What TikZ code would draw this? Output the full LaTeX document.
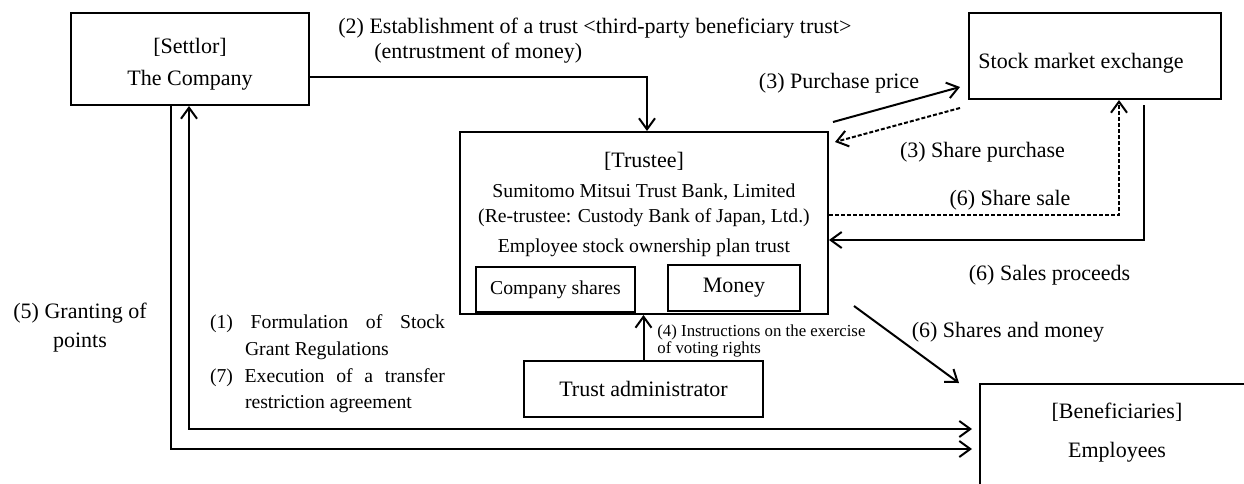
\documentclass[tikz,border=0pt]{standalone}
\usepackage{fontspec}
\setmainfont{Liberation Serif}
\usetikzlibrary{arrows.meta}
\begin{document}
\begin{tikzpicture}[x=0.5pt,y=-0.5pt,
  >={Straight Barb[length=5.5pt,width=8pt]},
  box/.style={draw, line width=1pt, inner sep=0pt},
  conn/.style={line width=1pt},
  dsh/.style={dash pattern=on 2pt off 1pt},
  lbl/.style={inner sep=0pt, font=\fontsize{11}{12.5}\selectfont}]
\fill[white] (0,0) rectangle (1244,483);
\useasboundingbox (0,0) rectangle (1244,483);

% boxes
\node[box, minimum width=119pt, minimum height=46pt] (settlor) at (190,59) {};
\node[lbl, align=center, font=\fontsize{11}{16}\selectfont] (settlortxt) at (190,64) {[Settlor]\\The Company};

\node[box, minimum width=126pt, minimum height=43pt] (stock) at (1095,56) {};
\node[lbl, anchor=west] (stocktxt) at (978,63) {Stock market exchange};

\node[box, minimum width=184pt, minimum height=91pt] (trustee) at (644,223) {};
\node[lbl, align=center, font=\fontsize{9.85}{12.5}\selectfont] (trusteetxt) at (644,204.5)
  {{\fontsize{11}{12.5}\selectfont [Trustee]}\\[2.5pt]
   Sumitomo Mitsui Trust Bank, Limited\\
   (Re-trustee: Custody Bank of Japan, Ltd.)\\[2.5pt]
   Employee stock ownership plan trust};

\node[box, minimum width=79.5pt, minimum height=22.5pt, font=\fontsize{9.85}{12}\selectfont] (shares) at (555.5,289.5) {Company shares};
\node[box, minimum width=66pt, minimum height=23pt, font=\fontsize{11}{12}\selectfont] (money) at (734,288) {Money};

\node[box, minimum width=119.5pt, minimum height=28pt, font=\fontsize{11}{12}\selectfont] (admin) at (643.5,389) {Trust administrator};

\begin{scope}
  \clip (0,0) rectangle (1244,483);
  \node[box, minimum width=138pt, minimum height=70pt, anchor=north west] (benef) at (979,383) {};
\end{scope}
\node[lbl, align=center, font=\fontsize{11}{19.5}\selectfont] (beneftxt) at (1117,432.5) {[Beneficiaries]\\Employees};

% coordinates
\coordinate (a2) at (647,77);
\coordinate (pp1) at (833,122);
\coordinate (pp2) at (960,87);
\coordinate (sp1) at (960,108);
\coordinate (sp2) at (835,142);
\coordinate (ss) at (1119,215);
\coordinate (sq0) at (1144,105);
\coordinate (sq1) at (1144,240);
\coordinate (sm1) at (854,306);
\coordinate (sm2) at (959,383);
\coordinate (o1) at (171,449);
\coordinate (o2) at (972,449);
\coordinate (i1) at (189,429);
\coordinate (i2) at (972,429);

% connectors
\draw[conn,->] (settlor.east |- a2) -- (a2) -- (trustee.north -| a2);
\draw[conn,->] (pp1) -- (pp2);
\draw[conn,dsh,->] (sp1) -- (sp2);
\draw[conn,dsh,->] (trustee.east |- ss) -- (ss) -- (stock.south -| ss);
\draw[conn,->] (sq0) -- (sq1) -- (trustee.east |- sq1);
\draw[conn,->] (admin.north) -- (trustee.south -| admin.north);
\draw[conn,->] (sm1) -- (sm2);
\draw[conn,->] (settlor.south -| o1) -- (o1) -- (o2);
\draw[conn,<->] (settlor.south -| i1) -- (i1) -- (i2);

% labels
\node[lbl, align=left, anchor=west] (l2) at (338,40.5)
  {(2) Establishment of a trust <third-party beneficiary trust>\\\hspace*{18pt}(entrustment of money)};
\node[lbl] (l3a) at (839,83) {(3) Purchase price};
\node[lbl] (l3b) at (982.5,152) {(3) Share purchase};
\node[lbl] (l6a) at (1010,200) {(6) Share sale};
\node[lbl] (l6b) at (1049.5,275) {(6) Sales proceeds};
\node[lbl] (l6c) at (1008,332) {(6) Shares and money};
\node[lbl, align=center, font=\fontsize{11}{14.5}\selectfont] (l5) at (80,327.5) {(5) Granting of\\points};
\node[lbl, anchor=west, align=left, font=\fontsize{8.4}{8.5}\selectfont] (l4) at (657,340.5)
  {(4) Instructions on the exercise\\of voting rights};
\node[lbl, text width=117.5pt, align=justify, font=\fontsize{9.85}{13.3}\selectfont] (l17) at (327.5,364)
  {\hyphenpenalty=10000\exhyphenpenalty=10000\emergencystretch=20pt
   \noindent\hangindent=17.5pt\hangafter=1 (1)\ Formulation of Stock Grant Regulations\par
   \noindent\hangindent=17.5pt\hangafter=1 (7)\ Execution of a transfer restriction agreement\par};
\end{tikzpicture}
\end{document}
